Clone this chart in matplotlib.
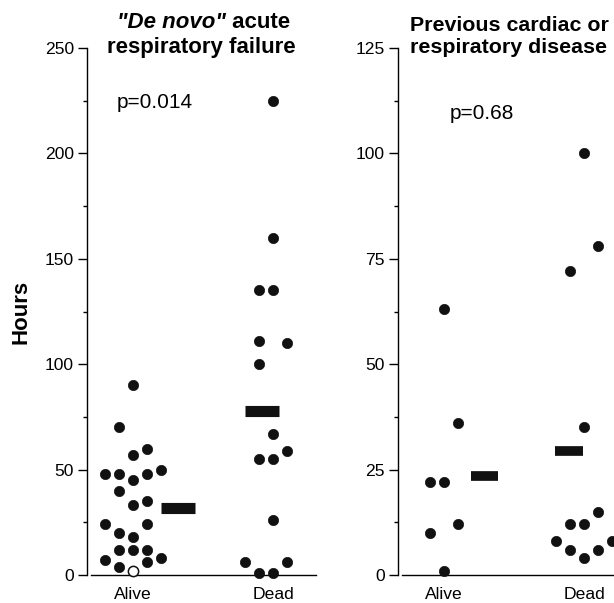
import matplotlib
matplotlib.use("Agg")
import matplotlib.pyplot as plt
from matplotlib.ticker import MultipleLocator

plt.rcParams['font.family'] = ['Liberation Sans', 'DejaVu Sans']

categories = ["Alive", "Dead"]

# Panel 1: "De novo" acute respiratory failure (hours)
p1_alive = [90, 70, 57, 60, 48, 48, 45, 48, 50, 40, 33, 35, 24, 20, 18, 24, 12, 12, 12, 7, 4, 2, 6, 8]
p1_alive_slot = [0, -1, 0, 1, -2, -1, 0, 1, 2, -1, 0, 1, -2, -1, 0, 1, -1, 0, 1, -2, -1, 0, 1, 2]
p1_alive_open = [False] * 21 + [True] + [False] * 2
p1_dead = [225, 160, 135, 135, 111, 110, 100, 67, 55, 55, 59, 26, 6, 6, 1, 1]
p1_dead_slot = [0, 0, -1, 0, -1, 1, -1, 0, -1, 0, 1, 0, -2, 1, -1, 0]
p1_medians = [32, 78]
p1_pvalue = "p=0.014"

# Panel 2: Previous cardiac or respiratory disease (hours)
p2_alive = [63, 36, 22, 22, 12, 10, 1]
p2_alive_slot = [0, 1, -1, 0, 1, -1, 0]
p2_dead = [100, 78, 72, 35, 15, 12, 12, 8, 6, 4, 6, 8]
p2_dead_slot = [0, 1, -1, 0, 1, -1, 0, -2, -1, 0, 1, 2]
p2_medians = [23.5, 29.5]
p2_pvalue = "p=0.68"

W, H = 614, 603
fig = plt.figure(figsize=(W / 100, H / 100), dpi=100)

def px_axes(left, top, right, bottom):
    return fig.add_axes([left / W, 1 - bottom / H, (right - left) / W, (bottom - top) / H])

ax1 = px_axes(87, 48, 316, 575)
ax2 = px_axes(398, 48, 627, 575)

DOT = '#111111'
STEP = 0.1

def draw_panel(ax, alive, alive_slot, dead, dead_slot, medians, ymax, major, minor,
               med_offsets, med_width, med_lw, open_flags=None):
    if open_flags is None:
        open_flags = [False] * len(alive)
    for v, s, o in zip(alive, alive_slot, open_flags):
        ax.plot(0 + s * STEP, v, 'o', ms=7.4,
                mfc='white' if o else DOT, mec=DOT, mew=1.1 if o else 0.5,
                clip_on=False, zorder=3)
    for v, s in zip(dead, dead_slot):
        ax.plot(1 + s * STEP, v, 'o', ms=7.4, mfc=DOT, mec=DOT, mew=0.5,
                clip_on=False, zorder=3)
    for i, (m, off) in enumerate(zip(medians, med_offsets)):
        c = i + off
        ax.plot([c - med_width / 2, c + med_width / 2], [m, m], '-', color=DOT,
                lw=med_lw, solid_capstyle='butt', zorder=3)
    ax.set_xlim(-0.33, 1.305)
    ax.set_ylim(0, ymax)
    ax.set_xticks([0, 1])
    ax.set_xticklabels(categories)
    ax.yaxis.set_major_locator(MultipleLocator(major))
    ax.yaxis.set_minor_locator(MultipleLocator(minor))
    ax.tick_params(axis='x', length=0, pad=8.5, labelsize=12.6)
    ax.tick_params(axis='y', which='major', length=6.5, width=1.0, pad=3, labelsize=12.6, direction='out')
    ax.tick_params(axis='y', which='minor', length=3.2, width=1.0, direction='out')
    for s in ['top', 'right']:
        ax.spines[s].set_visible(False)
    ax.spines['left'].set_linewidth(1.0)
    ax.spines['bottom'].set_linewidth(1.0)
    ax.spines['bottom'].set_bounds(-0.305, 1.305)
    ax.patch.set_alpha(0)

draw_panel(ax1, p1_alive, p1_alive_slot, p1_dead, p1_dead_slot, p1_medians, 250, 50, 25,
           [0.32, -0.08], 0.245, 8.0, p1_alive_open)
draw_panel(ax2, p2_alive, p2_alive_slot, p2_dead, p2_dead_slot, p2_medians, 125, 25, 12.5,
           [0.29, -0.11], 0.195, 7.0)

ax1.text(-0.116, 221.5, p1_pvalue, fontsize=15, ha='left', va='baseline')
ax2.text(0.04, 108.2, p2_pvalue, fontsize=15, ha='left', va='baseline')

# Titles
TFS = 16
ax2.text((509 - 398) / 229, 0.99, "Previous cardiac or\nrespiratory disease", transform=ax2.transAxes,
         ha='center', va='baseline', fontsize=15.4, fontweight='bold', linespacing=1.2)
ax1.text(0.5, 0.99, "respiratory failure", transform=ax1.transAxes,
         ha='center', va='baseline', fontsize=TFS, fontweight='bold')

fig.canvas.draw()
r = fig.canvas.get_renderer()
ta = fig.text(0, 0, '"De novo"', fontsize=TFS, fontweight='bold', fontstyle='italic')
tb = fig.text(0, 0, ' acute', fontsize=TFS, fontweight='bold')
wa = ta.get_window_extent(r).width
wb = tb.get_window_extent(r).width
cx = (87 + 316) / 2 + 2
base_y = 1 - 27.5 / H
x0 = cx - (wa + wb) / 2
ta.set_position((x0 / W, base_y)); ta.set_va('baseline')
tb.set_position(((x0 + wa) / W, base_y)); tb.set_va('baseline')

fig.text(20.5 / W, 1 - 311.5 / H, "Hours", rotation=90, ha='center', va='center',
         fontsize=16, fontweight='bold')

fig.savefig("out.png", dpi=100)
